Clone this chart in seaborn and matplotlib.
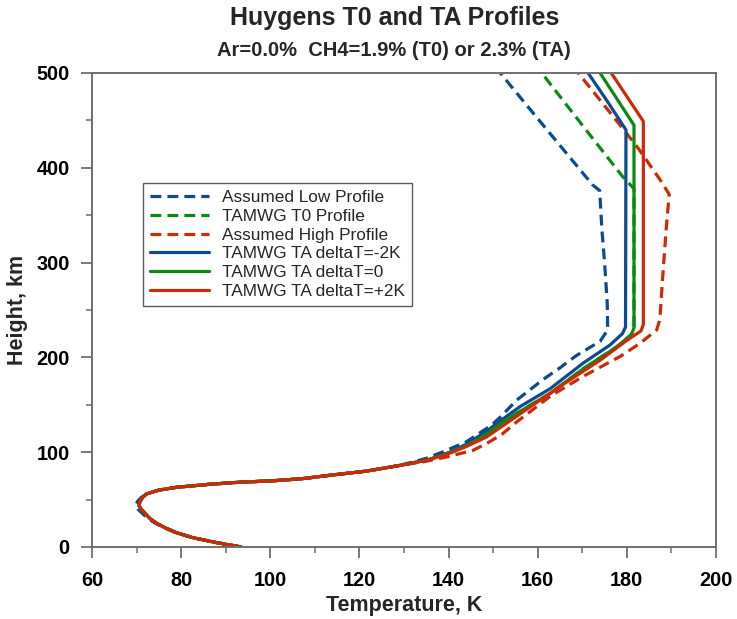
import matplotlib
matplotlib.use("Agg")
import matplotlib.pyplot as plt
import seaborn as sns
import pandas as pd
from matplotlib.ticker import MultipleLocator

# ---------------- data ----------------
base_h = [0, 5, 10, 15, 20, 25, 30, 35, 40, 44, 48, 52, 56, 60, 63, 66, 68, 70, 72, 76, 80, 86]
base_T = [93.5, 87.5, 82.5, 79.0, 76.5, 74.5, 73.0, 72.0, 71.0, 70.5, 70.8, 71.3, 72.2, 75.0, 79.0,
          86.0, 92.0, 101.0, 107.0, 114.0, 121.5, 129.0]

low_base_T = [93.5, 87.5, 82.5, 79.0, 76.3, 74.2, 72.6, 71.4, 70.3, 69.8, 70.2, 71.0, 72.2, 75.0, 79.0,
              86.0, 92.0, 101.0, 107.0, 114.0, 121.5, 129.0]

low_h = base_h + [93.5, 100.5, 111, 128.7, 137, 155, 177, 189, 202, 217, 229, 257, 300, 335, 376,
                  382, 419, 461, 500]
low_T = low_base_T + [135.0, 138.8, 144.0, 149.7, 151.6, 155.3, 161.3, 165.0, 168.7, 174.0, 175.7,
                      175.6, 175.0, 174.4, 173.9, 172.3, 165.8, 158.4, 151.6]

t0_h = base_h + [92, 99.5, 107, 119, 129.5, 141, 162, 188, 211, 224, 231, 378, 391, 445, 500]
t0_T = base_T + [135.5, 140.3, 144.0, 148.5, 151.5, 155.3, 162.8, 170.2, 177.7, 181.0, 181.6, 181.6,
                 179.0, 170.0, 160.9]

high_h = base_h + [90, 95, 102, 109, 119, 132, 159, 180, 201, 215, 229, 240, 282, 334, 372, 385, 419,
                   442, 500]
high_T = base_T + [134.5, 139.6, 145.5, 148.5, 152.0, 155.3, 162.8, 170.2, 178.5, 183.0, 186.7, 187.4,
                   188.0, 188.8, 189.5, 187.8, 182.8, 179.0, 169.1]

tam2_h = base_h + [92, 100, 108.5, 122, 133, 148, 167, 194, 213, 225, 232, 440, 471, 500]
tam2_T = base_T + [135.5, 140.3, 144.0, 148.5, 151.6, 156.0, 162.8, 170.2, 176.2, 179.0, 179.7, 179.8,
                   175.5, 171.3]

ta0_h = base_h + [92, 99.5, 107, 119, 129.5, 141, 162, 188, 211, 224, 231, 445, 500]
ta0_T = base_T + [135.5, 140.3, 144.0, 148.5, 151.5, 155.3, 162.8, 170.2, 177.7, 181.0, 181.6, 181.6,
                  174.0]

tap2_h = base_h + [92, 99, 106, 116, 126, 150, 174, 197, 218, 228, 235, 449, 500]
tap2_T = base_T + [135.5, 140.3, 144.0, 148.5, 151.6, 159.0, 166.5, 174.0, 180.0, 183.2, 183.7, 183.7,
                   176.5]

labels = ["Assumed Low Profile", "TAMWG T0 Profile", "Assumed High Profile",
          "TAMWG TA deltaT=-2K", "TAMWG TA deltaT=0", "TAMWG TA deltaT=+2K"]
x_ticks = [60, 80, 100, 120, 140, 160, 180, 200]
y_ticks = [0, 100, 200, 300, 400, 500]

BLUE, GREEN, RED = "#0c4a92", "#0b8a12", "#cc2a04"
series = [
    (low_T, low_h, labels[0], BLUE, True),
    (t0_T, t0_h, labels[1], GREEN, True),
    (high_T, high_h, labels[2], RED, True),
    (tam2_T, tam2_h, labels[3], BLUE, False),
    (ta0_T, ta0_h, labels[4], GREEN, False),
    (tap2_T, tap2_h, labels[5], RED, False),
]

# ---------------- figure ----------------
sns.set_theme(style="white")
plt.rcParams["font.family"] = ["Liberation Sans", "DejaVu Sans"]

fig = plt.figure(figsize=(7.37, 6.19), dpi=100)
ax = fig.add_axes([92 / 737, 1 - 547 / 619, (716 - 92) / 737, (547 - 73) / 619])

for T, h, lab, col, dashed in series:
    df = pd.DataFrame({"T": T, "h": h})
    sns.lineplot(data=df, x="T", y="h", sort=False, estimator=None, ax=ax,
                 color=col, linewidth=2.3, label=lab,
                 linestyle=(0, (3.4, 1.9)) if dashed else "-")

ax.set_xlim(60, 200)
ax.set_ylim(0, 500)
ax.set_xticks(x_ticks)
ax.set_yticks(y_ticks)
ax.xaxis.set_minor_locator(MultipleLocator(10))
ax.yaxis.set_minor_locator(MultipleLocator(50))

spine_col = "#6e6e6e"
for s in ax.spines.values():
    s.set_color(spine_col)
    s.set_linewidth(1.4)
    s.set_visible(True)

ax.tick_params(which="major", direction="out", length=8, width=1.3, color=spine_col,
               labelsize=14.3, labelcolor="black")
ax.tick_params(which="minor", direction="out", length=4.5, width=1.1, color=spine_col)
ax.tick_params(axis="x", which="both", bottom=True, pad=9)
ax.tick_params(axis="y", which="both", left=True, pad=8)
for t in ax.get_xticklabels() + ax.get_yticklabels():
    t.set_fontweight("bold")

ax.set_xlabel("Temperature, K", fontsize=15.5, fontweight="bold", labelpad=4)
ax.set_ylabel("Height, km", fontsize=15.5, fontweight="bold", labelpad=6)

leg = ax.legend(loc="upper left", bbox_to_anchor=(0.082, 0.768), borderaxespad=0,
                fontsize=12.4, frameon=True, fancybox=False, handlelength=3.4,
                labelspacing=0.22, borderpad=0.4, handletextpad=0.8)
leg.get_frame().set_edgecolor("#333333")
leg.get_frame().set_linewidth(1.0)

fig.text(0.536, 0.971, "Huygens T0 and TA Profiles", ha="center", va="center",
         fontsize=18, fontweight="bold")
fig.text(0.535, 0.918, "Ar=0.0%  CH4=1.9% (T0) or 2.3% (TA)", ha="center", va="center",
         fontsize=14.5, fontweight="bold")

fig.savefig("out.png", dpi=100)
